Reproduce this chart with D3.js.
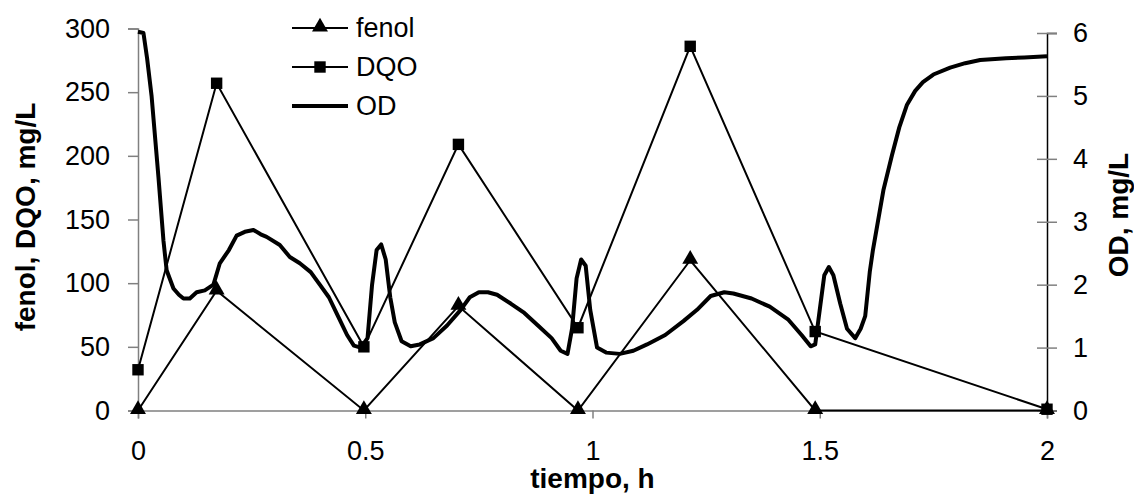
<!DOCTYPE html>
<html>
<head>
<meta charset="utf-8">
<script src="https://cdn.jsdelivr.net/npm/d3@7"></script>
<style>
	body { margin: 0; background: #fff; }
	text { font-family: "Liberation Sans", Arial, sans-serif; }
	.tick text { font-size: 27px; fill: #000; }
	.title { font-size: 28px; font-weight: bold; }
	.legend text { font-size: 27px; }
</style>
</head>
<body>
<div id="chart"></div>
<script>

/*
Sample times (h) for fenol and DQO
*/
var sampleTimes = [0, 0.173, 0.497, 0.705, 0.968, 1.215, 1.49, 2];
var fenolValues = [0, 94, 0, 82, 0, 118, 0, 0];
var dqoValues = [32, 257, 50, 209, 65, 286, 62, 1];

/*
Dissolved oxygen (OD, mg/L) curve
*/
var odTimes = [0, 0.012, 0.02, 0.03, 0.045, 0.056, 0.063, 0.078, 0.09, 0.1, 0.114, 0.129,
	0.147, 0.166, 0.18, 0.2, 0.217, 0.235, 0.254, 0.27, 0.283, 0.312, 0.334, 0.356,
	0.38, 0.4, 0.42, 0.44, 0.46, 0.475, 0.49, 0.505, 0.515, 0.525, 0.535, 0.545, 0.555,
	0.565, 0.58, 0.6, 0.62, 0.65, 0.68, 0.71, 0.73, 0.75, 0.77, 0.79, 0.82, 0.85,
	0.88, 0.91, 0.93, 0.945, 0.955, 0.965, 0.975, 0.985, 0.995, 1.01, 1.03, 1.06,
	1.09, 1.12, 1.16, 1.2, 1.23, 1.26, 1.29, 1.31, 1.35, 1.39, 1.43, 1.46, 1.48,
	1.49, 1.5, 1.51, 1.52, 1.53, 1.545, 1.56, 1.578, 1.59, 1.6, 1.61, 1.617, 1.64,
	1.659, 1.675, 1.692, 1.71, 1.727, 1.75, 1.787, 1.82, 1.853, 1.91, 1.95, 2];
var odValues = [6.02, 6.0, 5.6, 4.99, 3.71, 2.7, 2.23, 1.94, 1.84, 1.78, 1.78, 1.88,
	1.91, 2.0, 2.34, 2.55, 2.78, 2.84, 2.87, 2.8, 2.76, 2.63, 2.44, 2.34,
	2.2, 2.0, 1.8, 1.5, 1.2, 1.03, 1.0, 1.15, 2.0, 2.55, 2.64, 2.4, 1.8,
	1.4, 1.1, 1.02, 1.05, 1.15, 1.35, 1.6, 1.8, 1.88, 1.88, 1.84, 1.7, 1.55,
	1.35, 1.15, 0.95, 0.9, 1.3, 2.1, 2.4, 2.3, 1.6, 1.0, 0.92, 0.9,
	0.95, 1.05, 1.2, 1.42, 1.6, 1.82, 1.88, 1.86, 1.78, 1.65, 1.45, 1.2, 1.02,
	1.05, 1.6, 2.15, 2.28, 2.15, 1.7, 1.3, 1.15, 1.3, 1.5, 2.2, 2.55, 3.5,
	4.06, 4.5, 4.86, 5.08, 5.22, 5.34, 5.45, 5.52, 5.57, 5.6, 5.61, 5.63];

/*
Axis ticks
*/
var xTicks = [0, 0.5, 1, 1.5, 2];
var yLeftTicks = [0, 50, 100, 150, 200, 250, 300];
var yRightTicks = [0, 1, 2, 3, 4, 5, 6];
var legendLabels = ["fenol", "DQO", "OD"];

// Build point lists
var fenol = sampleTimes.map(function(t, i) { return { t: t, v: fenolValues[i] }; });
var dqo = sampleTimes.map(function(t, i) { return { t: t, v: dqoValues[i] }; });
var od = odTimes.map(function(t, i) { return { t: t, v: odValues[i] }; });

var width = 1134, height = 495;
var axisGrey = "#808080";

var svg = d3.select("#chart").append("svg")
	.attr("width", width)
	.attr("height", height);

/*
Scales
*/
var xScale = d3.scaleLinear().domain([0, 2]).range([138, 1047]);
var yLeft = d3.scaleLinear().domain([0, 300]).range([410.5, 28.5]);
var yRight = d3.scaleLinear().domain([0, 6]).range([410.5, 33]);

/*
Axes
*/
var gX = svg.append("g")
	.attr("transform", "translate(0," + yLeft(0) + ")")
	.call(d3.axisBottom(xScale).tickValues(xTicks).tickSize(8).tickPadding(22)
		.tickFormat(d3.format("")));

var gYL = svg.append("g")
	.attr("transform", "translate(" + xScale(0) + ",0)")
	.call(d3.axisLeft(yLeft).tickValues(yLeftTicks).tickSize(10).tickPadding(18));

var gYR = svg.append("g")
	.attr("transform", "translate(" + xScale(2) + ",0)")
	.call(d3.axisRight(yRight).tickValues(yRightTicks).tickSize(10).tickPadding(16)
		.tickFormat(d3.format("d")));

// Right axis ticks cross the line
gYR.selectAll(".tick").append("line")
	.attr("x1", -10).attr("x2", 0)
	.attr("stroke", axisGrey);

[gX, gYL, gYR].forEach(function(g) {
	g.selectAll("path.domain").attr("stroke", axisGrey).attr("stroke-width", 1.5);
	g.selectAll(".tick line").attr("stroke", axisGrey).attr("stroke-width", 1.5);
	g.selectAll(".tick text").attr("font-size", null).attr("font-family", null);
});
gYR.select("path.domain").attr("stroke", "#000");
gX.selectAll(".tick text").attr("dy", "0.71em");

/*
Axis titles
*/
svg.append("text")
	.attr("class", "title")
	.attr("text-anchor", "middle")
	.attr("x", xScale(1))
	.attr("y", 488)
	.text("tiempo, h");

svg.append("text")
	.attr("class", "title")
	.attr("text-anchor", "middle")
	.attr("transform", "translate(35,217) rotate(-90)")
	.text("fenol, DQO, mg/L");

svg.append("text")
	.attr("class", "title")
	.attr("text-anchor", "middle")
	.attr("transform", "translate(1128,215) rotate(-90)")
	.text("OD, mg/L");

/*
Lines
*/
var lineLeft = d3.line()
	.x(function(d) { return xScale(d.t); })
	.y(function(d) { return yLeft(d.v); });

var lineRight = d3.line()
	.x(function(d) { return xScale(d.t); })
	.y(function(d) { return yRight(d.v); });

svg.append("path")
	.datum(fenol)
	.attr("d", lineLeft)
	.attr("fill", "none")
	.attr("stroke", "#000")
	.attr("stroke-width", 2);

svg.append("path")
	.datum(dqo)
	.attr("d", lineLeft)
	.attr("fill", "none")
	.attr("stroke", "#000")
	.attr("stroke-width", 2);

svg.append("path")
	.datum(od)
	.attr("d", lineRight)
	.attr("fill", "none")
	.attr("stroke", "#000")
	.attr("stroke-width", 4)
	.attr("stroke-linejoin", "round");

/*
Markers
*/
var triangle = d3.symbol().type(d3.symbolTriangle).size(110);
var square = d3.symbol().type(d3.symbolSquare).size(130);

svg.append("g").selectAll("path")
	.data(fenol)
	.enter().append("path")
	.attr("d", triangle)
	.attr("transform", function(d) { return "translate(" + xScale(d.t) + "," + (yLeft(d.v) - 1) + ")"; })
	.attr("fill", "#000");

svg.append("g").selectAll("path")
	.data(dqo)
	.enter().append("path")
	.attr("d", square)
	.attr("transform", function(d) { return "translate(" + xScale(d.t) + "," + yLeft(d.v) + ")"; })
	.attr("fill", "#000");

/*
Legend
*/
var legend = svg.append("g").attr("class", "legend");
var legendY = [28, 67, 106];

legendLabels.forEach(function(label, i) {
	var row = legend.append("g").attr("transform", "translate(0," + legendY[i] + ")");
	row.append("line")
		.attr("x1", 292).attr("x2", 348)
		.attr("stroke", "#000")
		.attr("stroke-width", i == 2 ? 4 : 2);
	if (i == 0) row.append("path").attr("d", triangle).attr("transform", "translate(320,-1)");
	if (i == 1) row.append("path").attr("d", square).attr("transform", "translate(320,0)");
	row.append("text")
		.attr("x", 356)
		.attr("dy", "0.35em")
		.text(label);
});

</script>
</body>
</html>
